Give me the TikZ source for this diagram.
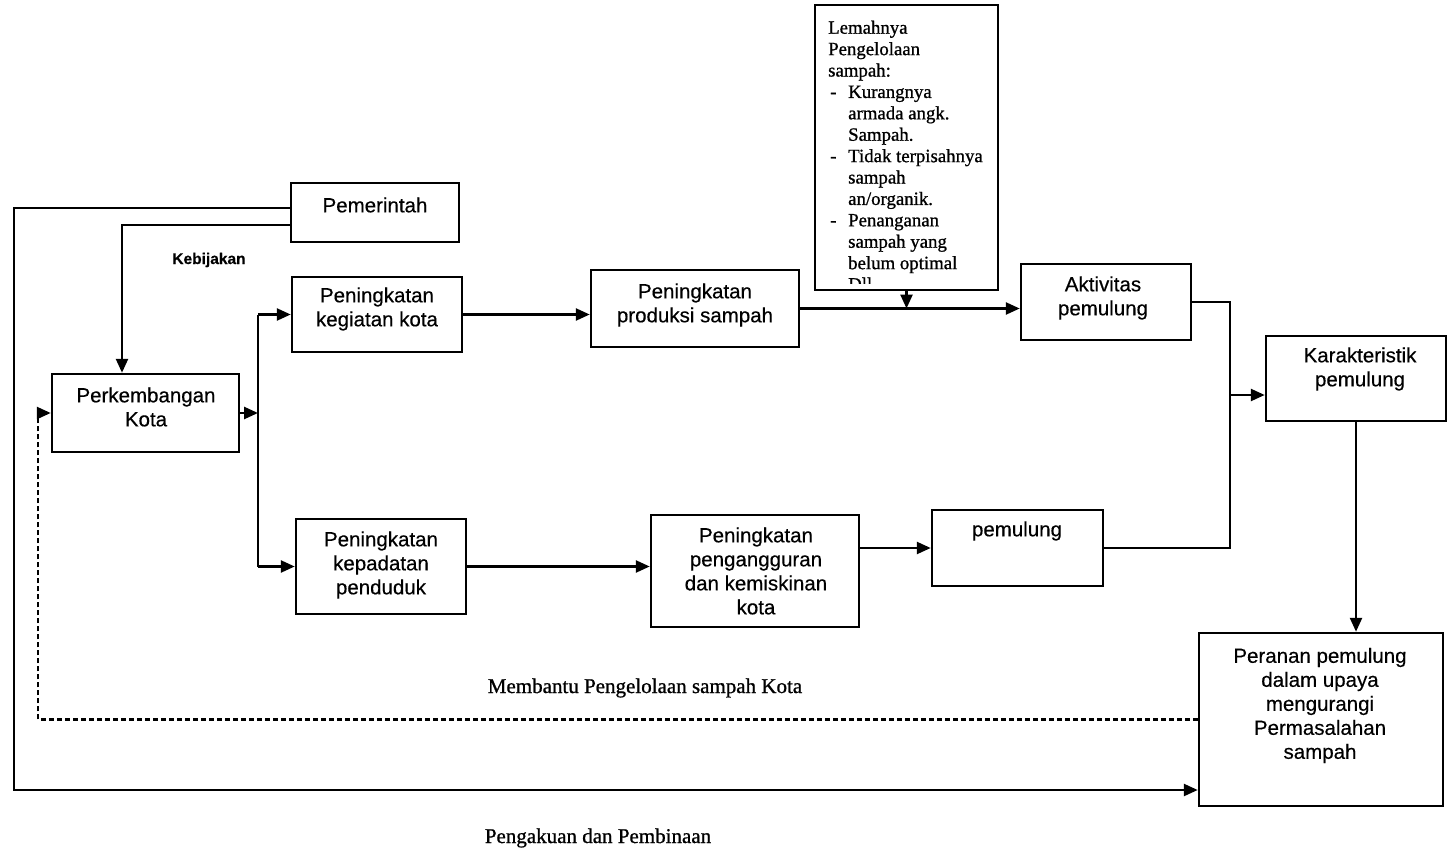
\documentclass[tikz,border=0pt]{standalone}
\usepackage{fontspec}
\setmainfont{Liberation Sans}[FakeBold=0.4]
\newfontfamily\serifx{Liberation Serif}[FakeBold=0.9]
\usetikzlibrary{arrows.meta,calc}
\newcommand\dashitem{\makebox[20pt][l]{\hspace{2pt}-}}
\newcommand\indentx{\hspace*{20pt}}
\begin{document}
\begin{tikzpicture}[x=1pt,y=-1pt,
  box/.style={draw, line width=2.5pt, inner sep=0pt},
  txt/.style={font=\fontsize{20.5}{24}\selectfont, align=center, inner sep=0pt},
  ln/.style={line width=2.5pt},
  arr/.style={line width=2.5pt, -{Triangle[length=14pt,width=12pt]}},
  lbl/.style={font=\serifx\fontsize{21}{24}\selectfont, inner sep=0pt}]
\useasboundingbox (0,0) rectangle (1447,850);

% boxes
\node[box, minimum width=168, minimum height=59] (pem) at (375,212.5) {};
\node[txt] (pemt) at (375,205) {Pemerintah};

\node[box, minimum width=187, minimum height=78] (perk) at (145.5,413) {};
\node[txt] (perkt) at (146,407) {Perkembangan\\Kota};

\node[box, minimum width=170, minimum height=75] (keg) at (377,314.5) {};
\node[txt] (kegt) at (377,309) {Peningkatan\\kegiatan kota};

\node[box, minimum width=208, minimum height=77] (prod) at (695,308.5) {};
\node[txt] (prodt) at (695,305) {Peningkatan\\produksi sampah};

\node[box, minimum width=183, minimum height=285] (lem) at (906.5,147.5) {};
\begin{scope}
\clip (816,6) rectangle (997,283.5);
\node[anchor=north west, inner sep=0pt, align=left, font=\serifx\fontsize{18.8}{21.4}\selectfont] (lemt) at (828,20.5)
 {Lemahnya\\Pengelolaan\\sampah:\\
  \dashitem Kurangnya\\\indentx armada angk.\\\indentx Sampah.\\
  \dashitem Tidak terpisahnya\\\indentx sampah\\\indentx an/organik.\\
  \dashitem Penanganan\\\indentx sampah yang\\\indentx belum optimal\\\indentx Dll};
\end{scope}

\node[box, minimum width=170, minimum height=76] (akt) at (1106,302) {};
\node[txt] (aktt) at (1103,298) {Aktivitas\\pemulung};

\node[box, minimum width=180, minimum height=85] (kar) at (1356,378.5) {};
\node[txt] (kart) at (1360,369) {Karakteristik\\pemulung};

\node[box, minimum width=170, minimum height=95] (kep) at (381,566.5) {};
\node[txt] (kept) at (381,565) {Peningkatan\\kepadatan\\penduduk};

\node[box, minimum width=208, minimum height=112] (peng) at (755,571) {};
\node[txt] (pengt) at (756,571) {Peningkatan\\pengangguran\\dan kemiskinan\\kota};

\node[box, minimum width=171, minimum height=76] (pml) at (1017.5,548) {};
\node[txt] (pmlt) at (1017,531) {pemulung};

\node[box, minimum width=244, minimum height=173] (per) at (1321,719.5) {};
\node[txt] (pert) at (1320,705.5) {Peranan pemulung\\dalam upaya\\mengurangi\\Permasalahan\\sampah};

% labels
\node[font=\bfseries\fontsize{15.5}{18}\selectfont, inner sep=0pt] (kebt) at (209,260) {Kebijakan};
\node[lbl] (membt) at (645,688) {Membantu Pengelolaan sampah Kota};
\node[lbl] (pengakt) at (598,838) {Pengakuan dan Pembinaan};

% coordinates
\coordinate (cL) at (14,790);
\coordinate (j1) at (258,413);
\coordinate (j2) at (1230,395);
\coordinate (cD) at (38,719.5);

% connectors
\draw[arr] ([yshift=4.5pt]pem.west) -| (cL) -- (cL -| per.west);
\draw[arr] ([yshift=-12.5pt]pem.west) -| ([xshift=-23.5pt]perk.north);
\draw[arr] (perk.east) -- (j1);
\draw[ln] (j1 |- keg.west) -- (j1 |- kep.west);
\draw[arr] (j1 |- keg.west) -- (keg.west);
\draw[arr] (j1 |- kep.west) -- (kep.west);
\draw[arr] (keg.east) -- (keg.east -| prod.west);
\draw[arr] (prod.east) -- (prod.east -| akt.west);
\draw[arr] (lem.south) -- (lem.south |- prod.east);
\draw[arr] (kep.east) -- (kep.east -| peng.west);
\draw[arr] (peng.east |- pml.west) -- (pml.west);
\draw[ln] (akt.east) -| (j2);
\draw[ln] (pml.east) -| (j2);
\draw[arr] (j2) -- (j2 -| kar.west);
\draw[arr] (kar.south) -- (kar.south |- per.north);
\draw[arr, dash pattern=on 5pt off 3pt] (per.west) -- (cD) |- (perk.west);
\end{tikzpicture}
\end{document}
